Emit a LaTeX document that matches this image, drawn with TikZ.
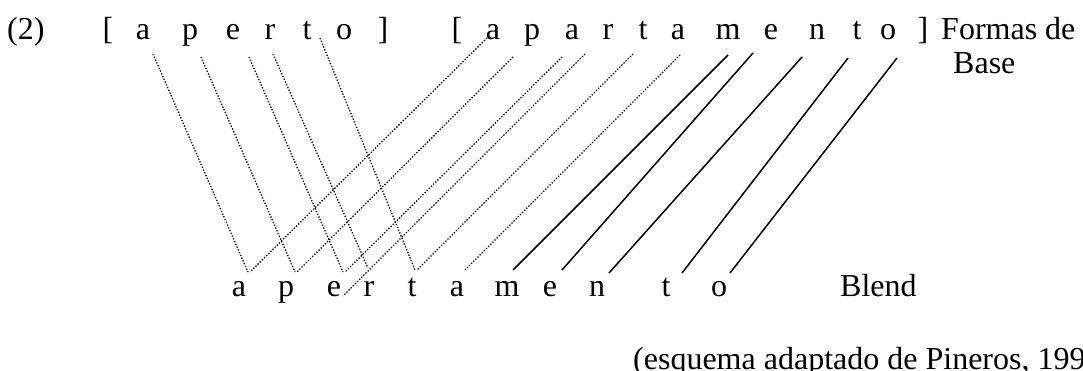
\documentclass[tikz,border=0pt]{standalone}
\usepackage{fontspec}
\setmainfont{Liberation Serif}
\begin{document}
\begin{tikzpicture}[x=1pt,y=-1pt,
  lt/.style={anchor=base, inner sep=0pt, font=\fontsize{32}{35}\selectfont},
  lw/.style={anchor=base west, inner sep=0pt, font=\fontsize{32}{35}\selectfont},
  dotln/.style={line width=1.3pt, dash pattern=on 1.3pt off 1.7pt},
  solln/.style={line width=1.5pt}]
\useasboundingbox (0,0) rectangle (1083,371);
% label
\node[lw] (num) at (7,40) {(2)};
% first base form
\node[lt] (lb1) at (108,40) {[};
\node[lt] (ta1) at (143,40) {a};
\node[lt] (tp1) at (190,40) {p};
\node[lt] (te1) at (233,40) {e};
\node[lt] (tr1) at (270,40) {r};
\node[lt] (tt1) at (307,40) {t};
\node[lt] (to1) at (344,40) {o};
\node[lt] (rb1) at (383,40) {]};
% second base form
\node[lt] (lb2) at (457,40) {[};
\node[lt] (sa1) at (493,40) {a};
\node[lt] (sp1) at (532,40) {p};
\node[lt] (sa2) at (572,40) {a};
\node[lt] (sr1) at (608,40) {r};
\node[lt] (st1) at (643,40) {t};
\node[lt] (sa3) at (678,40) {a};
\node[lt] (sm1) at (728,40) {m};
\node[lt] (se1) at (771,40) {e};
\node[lt] (sn1) at (817,40) {n};
\node[lt] (st2) at (857,40) {t};
\node[lt] (so1) at (888,40) {o};
\node[lt] (rb2) at (923,40) {]};
\node[lw] (fb1) at (941,40) {Formas de};
\node[lw] (fb2) at (953,74) {Base};
% blend
\node[lt] (ba1) at (239,296) {a};
\node[lt] (bp1) at (286,296) {p};
\node[lt] (be1) at (334,296) {e};
\node[lt] (br1) at (369,296) {r};
\node[lt] (bt1) at (412,296) {t};
\node[lt] (ba2) at (457,296) {a};
\node[lt] (bm1) at (507,296) {m};
\node[lt] (be2) at (550,296) {e};
\node[lt] (bn1) at (597,296) {n};
\node[lt] (bt2) at (666,296) {t};
\node[lt] (bo1) at (719,296) {o};
\node[lw] (bl) at (840,296) {Blend};
% source
\node[lw] (src) at (633,369) {(esquema adaptado de Pineros, 199};
% dotted lines from first base
\draw[dotln] ([shift={(10,14)}]ta1.base) -- ([shift={(9,-24)}]ba1.base);
\draw[dotln] ([shift={(11,17)}]tp1.base) -- ([shift={(9,-24)}]bp1.base);
\draw[dotln] ([shift={(16,17)}]te1.base) -- ([shift={(9,-24)}]be1.base);
\draw[dotln] ([shift={(3,14)}]tr1.base) -- ([shift={(-1,-28)}]br1.base);
\draw[dotln] ([shift={(13,-2)}]tt1.base) -- ([shift={(3,-26)}]bt1.base);
% dotted lines from second base
\draw[dotln] ([shift={(-6,-2)}]sa1.base) -- ([shift={(11,-24)}]ba1.base);
\draw[dotln] ([shift={(-19,17)}]sp1.base) -- ([shift={(11,-24)}]bp1.base);
\draw[dotln] ([shift={(-10,17)}]sa2.base) -- ([shift={(11,-24)}]be1.base);
\draw[dotln] ([shift={(-23,14)}]sr1.base) -- ([shift={(-26,0)}]br1.base);
\draw[dotln] ([shift={(-10,14)}]st1.base) -- ([shift={(5,-26)}]bt1.base);
\draw[dotln] ([shift={(2,15)}]sa3.base) -- ([shift={(8,-26)}]ba2.base);
% solid lines
\draw[solln] ([shift={(0,15)}]sm1.base) -- ([shift={(6,-26)}]bm1.base);
\draw[solln] ([shift={(-18,13)}]se1.base) -- ([shift={(12,-26)}]be2.base);
\draw[solln] ([shift={(-15,17)}]sn1.base) -- ([shift={(12,-23)}]bn1.base);
\draw[solln] ([shift={(-9,18)}]st2.base) -- ([shift={(16,-23)}]bt2.base);
\draw[solln] ([shift={(9,18)}]so1.base) -- ([shift={(11,-23)}]bo1.base);
\end{tikzpicture}
\end{document}
